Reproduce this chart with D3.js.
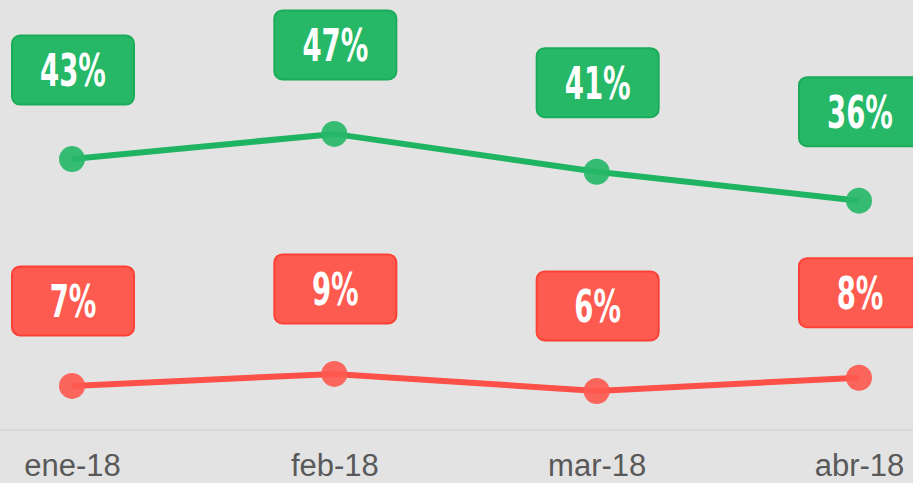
<!DOCTYPE html>
<html>
<head>
<meta charset="utf-8">
<script src="https://cdn.jsdelivr.net/npm/d3@7"></script>
<style>
  html, body { margin: 0; padding: 0; background: #e3e3e3; }
  svg { display: block; }
</style>
</head>
<body>
<div id="graphic"></div>
<script>
// chart data
const months = ["ene-18", "feb-18", "mar-18", "abr-18"];
const greenValues = [43.0, 47.0, 41.0, 36.4];
const redValues = [7.0, 8.9, 6.2, 8.3];
const greenLabels = ["43%", "47%", "41%", "36%"];
const redLabels = ["7%", "9%", "6%", "8%"];

const graphicWidth = 913;
const graphicHeight = 483;

const svg = d3.select("#graphic")
    .append("svg")
    .attr("width", graphicWidth)
    .attr("height", graphicHeight);

svg.append("rect")
    .attr("width", graphicWidth)
    .attr("height", graphicHeight)
    .attr("fill", "#e3e3e3");

// scales
const x = d3.scalePoint()
    .domain(months)
    .range([72, 859]);

const y = d3.scaleLinear()
    .domain([0, 50])
    .range([430, 115]);

// baseline
svg.append("line")
    .attr("x1", 0)
    .attr("x2", graphicWidth)
    .attr("y1", y(0))
    .attr("y2", y(0))
    .attr("stroke", "#d6d6d6")
    .attr("stroke-width", 1.5);

// x axis labels
const xAxis = svg.append("g")
    .attr("transform", "translate(0," + y(0) + ")")
    .call(d3.axisBottom(x).tickSize(0).tickPadding(24));
xAxis.select(".domain").remove();
xAxis.selectAll("text")
    .attr("fill", "#595959")
    .style("font-family", "'Liberation Sans', Arial, sans-serif")
    .style("font-size", "31px");

function drawSeries(values, labels, lineColor, dotColor, boxFill, boxStroke, labelOffset) {
    const data = values.map((v, i) => ({month: months[i], value: v, label: labels[i]}));

    svg.append("path")
        .datum(data)
        .attr("fill", "none")
        .attr("stroke", lineColor)
        .attr("stroke-width", 6)
        .attr("d", d3.line()
            .x(d => x(d.month))
            .y(d => y(d.value)));

    svg.append("g").selectAll("circle")
        .data(data)
        .join("circle")
        .attr("cx", d => x(d.month))
        .attr("cy", d => y(d.value))
        .attr("r", 13)
        .attr("fill", dotColor)
        .attr("opacity", 0.92);

    const boxes = svg.append("g").selectAll("g")
        .data(data)
        .join("g")
        .attr("transform", d => "translate(" + (x(d.month) + 1) + "," + (y(d.value) - labelOffset) + ")");

    boxes.append("rect")
        .attr("x", -61)
        .attr("y", -34.5)
        .attr("width", 122)
        .attr("height", 69)
        .attr("rx", 8)
        .attr("fill", boxFill)
        .attr("stroke", boxStroke)
        .attr("stroke-width", 2);

    // condensed look: squeeze the glyphs horizontally
    boxes.append("text")
        .attr("transform", "scale(0.68,1)")
        .attr("text-anchor", "middle")
        .attr("dy", "0.36em")
        .attr("fill", "#ffffff")
        .style("font-family", "'DejaVu Sans Condensed', 'DejaVu Sans', sans-serif")
        .style("font-weight", "bold")
        .style("font-size", "45px")
        .text(d => d.label);
}

drawSeries(greenValues, greenLabels, "#1fb462", "#27b968", "#26b867", "#1bac59", 89);
drawSeries(redValues, redLabels, "#fd5048", "#fd5a50", "#fd5b50", "#fb4136", 85);
</script>
</body>
</html>
